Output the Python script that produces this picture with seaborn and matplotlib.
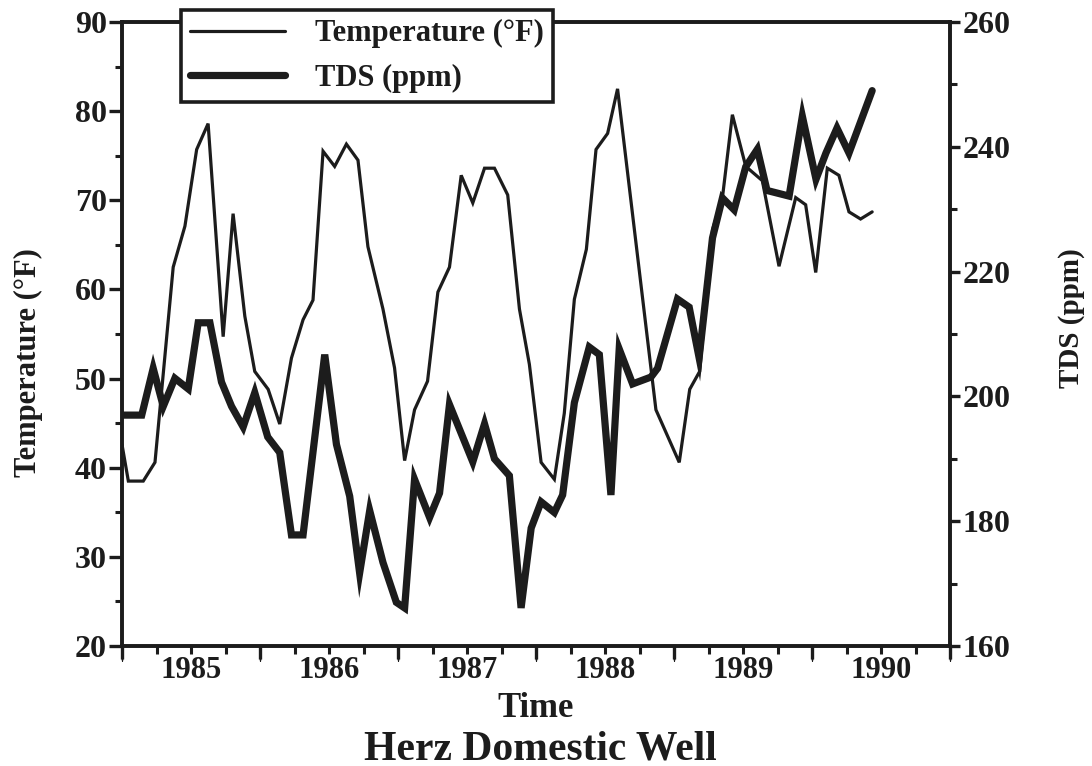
import matplotlib
matplotlib.use("Agg")
import matplotlib.pyplot as plt
import pandas as pd
import seaborn as sns
from matplotlib.ticker import MultipleLocator, FuncFormatter

# Sample dates (decimal years) and readings for the Herz domestic well
temp_year = [1985.000, 1985.046, 1985.154, 1985.239, 1985.371, 1985.456, 1985.541,
             1985.624, 1985.733, 1985.805, 1985.890, 1985.962, 1986.059, 1986.143,
             1986.228, 1986.312, 1986.384, 1986.457, 1986.541, 1986.626, 1986.710,
             1986.782, 1986.891, 1986.975, 1987.048, 1987.120, 1987.214, 1987.289,
             1987.373, 1987.458, 1987.542, 1987.627, 1987.699, 1987.795, 1987.880,
             1987.952, 1988.037, 1988.133, 1988.205, 1988.278, 1988.365, 1988.435,
             1988.519, 1988.591, 1988.869, 1989.038, 1989.114, 1989.186, 1989.279,
             1989.351, 1989.423, 1989.520, 1989.640, 1989.761, 1989.882, 1989.954,
             1990.027, 1990.111, 1990.195, 1990.268, 1990.352, 1990.436]
temp_f = [42.6, 38.5, 38.5, 40.6, 62.5, 67.1, 75.7,
          78.6, 54.7, 68.5, 57.0, 50.8, 48.8, 44.9,
          52.3, 56.6, 58.8, 75.5, 73.8, 76.3, 74.5,
          64.8, 57.8, 51.2, 40.8, 46.5, 49.7, 59.7,
          62.5, 72.8, 69.7, 73.6, 73.6, 70.6, 57.8,
          51.6, 40.6, 38.7, 46.1, 58.9, 64.5, 75.7,
          77.5, 82.5, 46.5, 40.6, 48.8, 50.8, 66.7,
          70.3, 79.6, 73.8, 72.2, 62.6, 70.3, 69.5,
          61.9, 73.6, 72.8, 68.7, 67.9, 68.7]

tds_year = [1985.000, 1985.143, 1985.226, 1985.299, 1985.383, 1985.480, 1985.552,
            1985.637, 1985.721, 1985.794, 1985.878, 1985.962, 1986.056, 1986.143,
            1986.228, 1986.312, 1986.469, 1986.554, 1986.650, 1986.722, 1986.795,
            1986.891, 1986.988, 1987.048, 1987.120, 1987.229, 1987.301, 1987.373,
            1987.542, 1987.627, 1987.699, 1987.807, 1987.892, 1987.965, 1988.037,
            1988.133, 1988.193, 1988.278, 1988.386, 1988.459, 1988.543, 1988.603,
            1988.700, 1988.833, 1988.881, 1989.025, 1989.110, 1989.182, 1989.279,
            1989.351, 1989.436, 1989.520, 1989.604, 1989.674, 1989.834, 1989.930,
            1990.029, 1990.101, 1990.181, 1990.268, 1990.436]
tds_ppm = [197.0, 197.0, 204.5, 198.4, 202.9, 201.2, 211.8,
           211.8, 202.3, 198.4, 195.1, 200.6, 193.5, 191.0,
           177.8, 177.8, 206.7, 192.3, 184.0, 171.7, 181.7,
           173.4, 167.0, 166.1, 186.7, 180.6, 184.5, 198.7,
           189.5, 195.6, 190.0, 187.3, 166.1, 178.9, 183.1,
           181.4, 184.2, 199.0, 207.9, 206.7, 184.2, 207.6,
           202.0, 203.1, 204.5, 215.6, 214.3, 206.2, 225.4,
           231.8, 229.9, 236.8, 239.6, 233.0, 232.1, 244.9,
           234.8, 239.0, 243.0, 239.0, 249.0]

year_labels = [1985, 1986, 1987, 1988, 1989, 1990]

sns.set_style("ticks")
plt.rcParams["font.family"] = ["Liberation Serif", "DejaVu Serif"]
plt.rcParams["font.weight"] = "bold"
plt.rcParams["axes.labelweight"] = "bold"

ink = "#1c1c1c"

fig = plt.figure(figsize=(10.92, 7.66), dpi=100)
ax = fig.add_axes([122 / 1092, 1 - 646 / 766, 828 / 1092, 624 / 766])
ax2 = ax.twinx()

temp_df = pd.DataFrame({"year": temp_year, "temp": temp_f})
tds_df = pd.DataFrame({"year": tds_year, "tds": tds_ppm})

sns.lineplot(data=temp_df, x="year", y="temp", ax=ax, color=ink, linewidth=2.3,
             estimator=None, sort=False, legend=False)
sns.lineplot(data=tds_df, x="year", y="tds", ax=ax2, color=ink, linewidth=5.2,
             estimator=None, sort=False, legend=False)
for ln in ax.lines + ax2.lines:
    ln.set_solid_joinstyle("miter")

ax.set_xlim(1985, 1991)
ax.set_ylim(20, 90)
ax2.set_ylim(160, 260)

# x axis: year boundaries (long ticks) and quarters (short ticks)
ax.xaxis.set_major_locator(MultipleLocator(1))
ax.xaxis.set_minor_locator(MultipleLocator(0.25))
ax.xaxis.set_major_formatter(FuncFormatter(lambda v, p: "'"))
ax.tick_params(axis="x", which="major", direction="out", length=9, width=2.4,
               color=ink, labelsize=13, pad=0)
ax.tick_params(axis="x", which="minor", direction="out", length=6, width=2.2, color=ink)

# year names centred inside each year
sec = ax.secondary_xaxis("bottom")
sec.set_xticks([y + 0.5 for y in year_labels], labels=[str(y) for y in year_labels])
sec.tick_params(axis="x", length=0, labelsize=22, pad=7)
sec.spines["bottom"].set_visible(False)
for t in sec.get_xticklabels():
    t.set_fontweight("bold")
    t.set_color(ink)

ax.yaxis.set_major_locator(MultipleLocator(10))
ax.yaxis.set_minor_locator(MultipleLocator(5))
ax.tick_params(axis="y", which="major", direction="out", length=9.5, width=2.4,
               color=ink, labelsize=23, pad=1.5)
ax.tick_params(axis="y", which="minor", direction="out", length=5, width=2.2, color=ink)

ax2.yaxis.set_major_locator(MultipleLocator(20))
ax2.yaxis.set_minor_locator(MultipleLocator(10))
ax2.tick_params(axis="y", which="major", direction="out", length=7.5, width=2.4,
                color=ink, labelsize=23, pad=1.5)
ax2.tick_params(axis="y", which="minor", direction="out", length=5, width=2.2, color=ink)

for a in (ax, ax2):
    for s in a.spines.values():
        s.set_linewidth(2.6)
        s.set_color(ink)
    for t in a.get_xticklabels() + a.get_yticklabels():
        t.set_fontweight("bold")
        t.set_color(ink)

ax.set_xlabel("Time", fontsize=25, fontweight="bold", color=ink)
ax.xaxis.set_label_coords(0.5, -0.073)
ax.xaxis.label.set_va("top")
ax.set_ylabel("Temperature (°F)", fontsize=22, fontweight="bold", color=ink,
              rotation=90, va="center")
ax.yaxis.set_label_coords(-0.1135, 0.4535)
ax2.set_ylabel("TDS (ppm)", fontsize=21, fontweight="bold", color=ink,
               rotation=90, va="center")
ax2.yaxis.set_label_coords(1.147, 0.5256)

fig.text(0.495, 1 - 730 / 766, "Herz Domestic Well", ha="center", va="top",
         fontsize=30, fontweight="bold", color=ink)

handles = [ax.lines[0], ax2.lines[0]]
labels = ["Temperature (°F)", "TDS (ppm)"]
leg = fig.legend(handles, labels, loc="upper left",
                 bbox_to_anchor=(181 / 1092, 1 - 10 / 766),
                 bbox_transform=fig.transFigure,
                 frameon=True, fancybox=False, framealpha=1, edgecolor=ink,
                 prop={"size": 22, "weight": "bold"},
                 handlelength=3.1, handletextpad=1.0, labelspacing=0.5,
                 borderpad=0.3, borderaxespad=0)
leg.get_frame().set_linewidth(2.6)
for t in leg.get_texts():
    t.set_color(ink)

fig.savefig("out.png", dpi=100, facecolor="white")
